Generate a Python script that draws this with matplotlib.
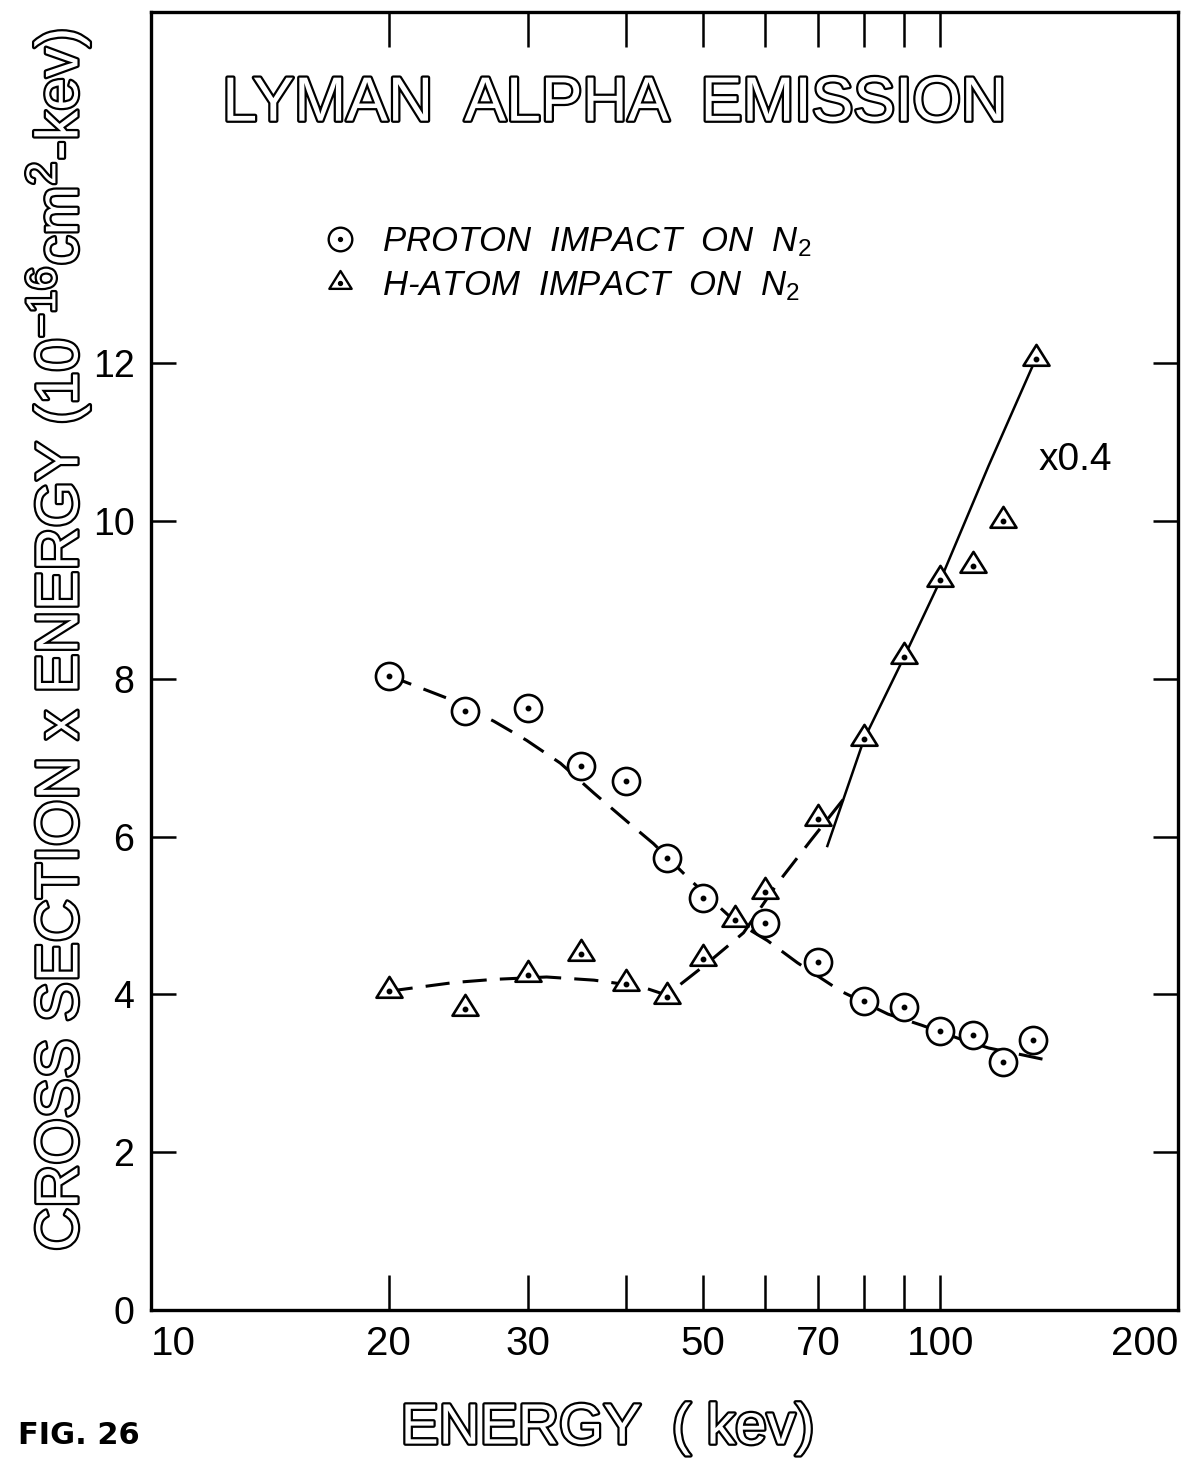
import matplotlib
matplotlib.use('Agg')
import matplotlib.pyplot as plt
from matplotlib import font_manager
from matplotlib.path import Path
from matplotlib.lines import Line2D
from matplotlib.legend_handler import HandlerTuple
import matplotlib.patheffects as pe

# ---------------- data ----------------
proton_energy = [20, 25, 30, 35, 40, 45, 50, 60, 70, 80, 90, 100, 110, 120, 131]
proton_value = [8.04, 7.59, 7.63, 6.89, 6.71, 5.73, 5.22, 4.90, 4.41, 3.91, 3.84, 3.53, 3.49, 3.14, 3.42]

hatom_energy = [20, 25, 30, 35, 40, 45, 50, 55, 60, 70, 80, 90, 100, 110, 120, 132]
hatom_value = [4.04, 3.82, 4.24, 4.51, 4.13, 3.97, 4.45, 4.94, 5.30, 6.22, 7.23, 8.28, 9.25, 9.43, 10.0, 12.05]

# hand-drawn fit curves
proton_fit_energy = [20, 24.2, 27.2, 29.9, 33.0, 36.4, 40.1, 43.3, 48.2, 54.7, 60.4, 65.9, 74.8, 85.8, 94.6, 106.2, 115.1, 126, 136]
proton_fit_value = [8.04, 7.72, 7.46, 7.22, 6.93, 6.55, 6.19, 5.91, 5.45, 4.94, 4.68, 4.40, 4.04, 3.75, 3.61, 3.43, 3.32, 3.24, 3.17]

hatom_fit_energy = [20, 24.2, 27.2, 31.7, 36.4, 41.7, 45, 50.6, 56.3, 62.1, 68.5, 76.7]
hatom_fit_value = [4.04, 4.15, 4.19, 4.22, 4.18, 4.10, 3.99, 4.39, 4.78, 5.40, 5.95, 6.57]

hatom_solid_energy = [71.9, 80, 90, 100, 115.1, 132]
hatom_solid_value = [5.88, 7.23, 8.28, 9.25, 10.70, 12.05]

x_ticks = [10, 20, 30, 40, 50, 60, 70, 80, 90, 100, 200]
x_tick_labels = ['10', '20', '30', '', '50', '', '70', '', '', '100', '200']
y_ticks = [0, 2, 4, 6, 8, 10, 12]
y_tick_labels = ['0', '2', '4', '6', '8', '10', '12']

title_text = 'LYMAN  ALPHA  EMISSION'
legend_labels = ['PROTON  IMPACT  ON  N$_{\\mathit{2}}$', 'H-ATOM  IMPACT  ON  N$_{\\mathit{2}}$']
ylabel_text = 'CROSS SECTION x ENERGY (10$^{-16}$cm$^{2}$-kev)'
xlabel_text = 'ENERGY  ( kev)'
scale_note = 'x0.4'
fig_note = 'FIG. 26'

# ---------------- fonts ----------------
avail = {f.name for f in font_manager.fontManager.ttflist}
FONT = next((n for n in ['Liberation Sans Narrow', 'DejaVu Sans Condensed',
                         'Liberation Sans', 'DejaVu Sans'] if n in avail), 'DejaVu Sans')
plt.rcParams['font.family'] = [FONT, 'DejaVu Sans']
plt.rcParams['mathtext.fontset'] = 'custom'
plt.rcParams['mathtext.rm'] = FONT
plt.rcParams['mathtext.it'] = FONT + ':italic'
plt.rcParams['mathtext.default'] = 'regular'

outline = [pe.withStroke(linewidth=3.2, foreground='black')]

# ---------------- figure ----------------
fig = plt.figure(figsize=(11.96, 14.63), dpi=100)
ax = fig.add_axes([0.1263, 0.1046, 0.8587, 0.8872])
ax.set_xscale('log')
ax.set_xlim(10, 200)
ax.set_ylim(0, 16.45)

for s in ax.spines.values():
    s.set_linewidth(2.4)

ax.set_xticks(x_ticks)
ax.set_xticklabels(x_tick_labels)
ax.xaxis.set_minor_locator(matplotlib.ticker.NullLocator())
ax.set_yticks(y_ticks)
ax.set_yticklabels(y_tick_labels)
ax.tick_params(axis='x', which='major', direction='in', length=25, width=1.8,
               top=True, bottom=True, labelsize=29, pad=11)
ax.tick_params(axis='y', which='major', direction='in', length=18, width=1.8,
               left=True, right=True, labelsize=27, pad=12)
xl = ax.get_xticklabels()
xl[0].set_horizontalalignment('left')
xl[-1].set_horizontalalignment('right')

# triangle marker with the dot (origin) near its centroid
tri_marker = Path([(0, 14), (-12.5, -6), (12.5, -6), (0, 14)],
                  [Path.MOVETO, Path.LINETO, Path.LINETO, Path.CLOSEPOLY])

# fit curves
ax.plot(proton_fit_energy, proton_fit_value, color='black', lw=2.2,
        dashes=(7.9, 4.3), zorder=2)
ax.plot(hatom_fit_energy, hatom_fit_value, color='black', lw=2.2,
        dashes=(7.9, 4.3), zorder=2)
ax.plot(hatom_solid_energy, hatom_solid_value, color='black', lw=1.8, zorder=2)

# data markers
ax.plot(proton_energy, proton_value, ls='none', marker='o', ms=19.5,
        mfc='white', mec='black', mew=1.9, zorder=3)
ax.plot(proton_energy, proton_value, ls='none', marker='o', ms=3.2,
        color='black', zorder=4)
ax.plot(hatom_energy, hatom_value, ls='none', marker=tri_marker, ms=21,
        mfc='white', mec='black', mew=1.9, zorder=3)
ax.plot(hatom_energy, hatom_value, ls='none', marker='o', ms=3.2,
        color='black', zorder=4)

# legend
circ_h = Line2D([], [], ls='none', marker='o', ms=17, mfc='white', mec='black', mew=1.7)
tri_h = Line2D([], [], ls='none', marker=tri_marker, ms=18, mfc='white', mec='black', mew=1.7)
dot_h = Line2D([], [], ls='none', marker='o', ms=2.8, color='black')
ax.legend([(circ_h, dot_h), (tri_h, dot_h)], legend_labels,
          handler_map={tuple: HandlerTuple(ndivide=1, pad=0)},
          loc='upper left', bbox_to_anchor=(0.169, 0.836), frameon=False,
          numpoints=1, handlelength=0.9, handletextpad=0.75, borderpad=0,
          borderaxespad=0, labelspacing=0.3,
          prop=dict(family=FONT, style='italic', size=25))

# texts
ax.text(0.451, 0.929, title_text, transform=ax.transAxes, ha='center', va='center',
        fontsize=45, color='white', path_effects=outline)
ax.text(148, 10.77, scale_note, ha='center', va='center', fontsize=28)
fig.text(0.0485, 0.5626, ylabel_text, rotation=90, ha='center', va='center',
         fontsize=43, color='white', path_effects=outline)
fig.text(0.508, 0.0235, xlabel_text, ha='center', va='center',
         fontsize=41, color='white', path_effects=outline)
fig.text(0.015, 0.0185, fig_note, ha='left', va='center', fontsize=22,
         fontweight='bold', family='DejaVu Sans')

fig.savefig('out.png', dpi=100)
